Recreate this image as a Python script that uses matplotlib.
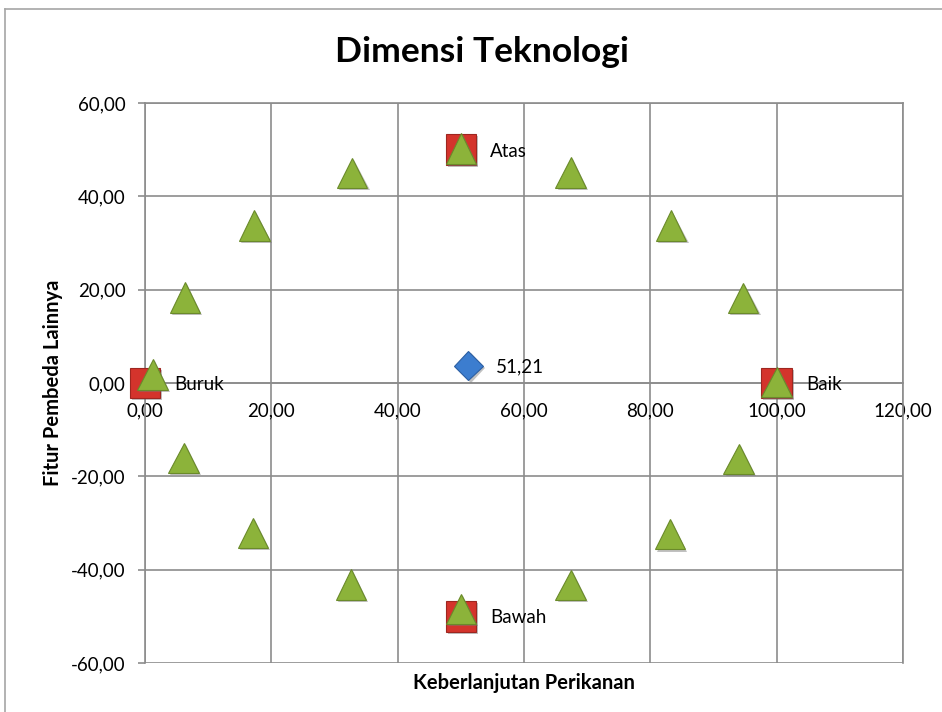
import matplotlib
matplotlib.use("Agg")
import matplotlib.pyplot as plt
import matplotlib.patheffects as pe
from matplotlib.lines import Line2D
from matplotlib.ticker import FuncFormatter

plt.rcParams['font.family'] = ['Lato', 'DejaVu Sans']

# data
title = "Dimensi Teknologi"
x_title = "Keberlanjutan Perikanan"
y_title = "Fitur Pembeda Lainnya"

# reference anchors (green triangles)
tri_x = [1.2, 6.3, 17.3, 32.8, 50.0, 67.4, 83.3, 94.7, 100.0, 94.0, 83.1, 67.4, 50.0, 32.6, 17.1, 6.1]
tri_y = [1.8, 18.3, 33.8, 45.0, 50.3, 45.1, 33.7, 18.2, 0.2, -16.3, -32.4, -43.3, -48.4, -43.2, -32.1, -16.1]

# extreme anchors (red squares)
anchor_x = [0, 100, 50, 50]
anchor_y = [0, 0, 50, -50]
anchor_labels = ["Buruk", "Baik", "Atas", "Bawah"]

# sustainability score (blue diamond)
score_x = 51.21
score_y = 3.7

x_ticks = [0, 20, 40, 60, 80, 100, 120]
y_ticks = [-60, -40, -20, 0, 20, 40, 60]


def comma(v, pos=None):
    return f"{v:.2f}".replace(".", ",")


fig = plt.figure(figsize=(9.42, 7.12), dpi=100)
ax = fig.add_axes([145 / 942, 1 - 663 / 712, 758 / 942, 560 / 712])

# chart frame (only left and top visible in the crop)
fig.add_artist(Line2D([5 / 942, 5 / 942], [0, 1 - 9 / 712], color="#a6a6a6", lw=1.2,
                      transform=fig.transFigure))
fig.add_artist(Line2D([5 / 942, 1], [1 - 9 / 712, 1 - 9 / 712], color="#a6a6a6", lw=1.2,
                      transform=fig.transFigure))

grid_col = "#8c8c8c"
ax.set_xlim(0, 120)
ax.set_ylim(-60, 60)
ax.set_xticks(x_ticks)
ax.set_yticks(y_ticks)
ax.grid(True, color=grid_col, lw=1.2)
ax.set_axisbelow(True)
for s in ax.spines.values():
    s.set_color(grid_col)
    s.set_linewidth(1.2)
ax.spines['bottom'].set_position(('data', 0))
ax.xaxis.set_major_formatter(FuncFormatter(comma))
ax.yaxis.set_major_formatter(FuncFormatter(comma))
ax.tick_params(axis='x', length=0, pad=14, labelsize=13.5, colors="black")
ax.tick_params(axis='y', length=5, width=1.2, color=grid_col, pad=9, labelsize=13.5,
               labelcolor="black")

shadow = [pe.SimplePatchShadow(offset=(1.5, -1.5), shadow_rgbFace="#777777", alpha=0.45),
          pe.Normal()]

ax.plot(anchor_x, anchor_y, ls="none", marker="s", ms=22, mfc="#d4342c", mec="#9e2620",
        mew=0.8, path_effects=shadow, clip_on=False, zorder=3)
ax.plot(tri_x, tri_y, ls="none", marker="^", ms=22, mfc="#8cb33a", mec="#6a8a2a",
        mew=0.8, path_effects=shadow, clip_on=False, zorder=4)
ax.plot([score_x], [score_y], ls="none", marker="D", ms=15, mfc="#3c7dcf", mec="#2c5fa3",
        mew=0.8, path_effects=shadow, clip_on=False, zorder=5)

for x, y, lab in zip(anchor_x, anchor_y, anchor_labels):
    ax.annotate(lab, (x, y), xytext=(21, -1), textcoords="offset points",
                ha="left", va="center", fontsize=13.5, zorder=6)
ax.annotate(comma(score_x), (score_x, score_y), xytext=(20, -1), textcoords="offset points",
            ha="left", va="center", fontsize=13.5, zorder=6)

fig.text(482 / 942, 1 - 52 / 712, title, ha="center", va="center", fontsize=25.5,
         fontweight="bold")
fig.text(524 / 942, 1 - 683 / 712, x_title, ha="center", va="center", fontsize=14.5,
         fontweight="bold")
fig.text(53 / 942, 1 - 383 / 712, y_title, ha="center", va="center", fontsize=14.5,
         fontweight="bold", rotation=90)

fig.savefig("out.png", dpi=100)
